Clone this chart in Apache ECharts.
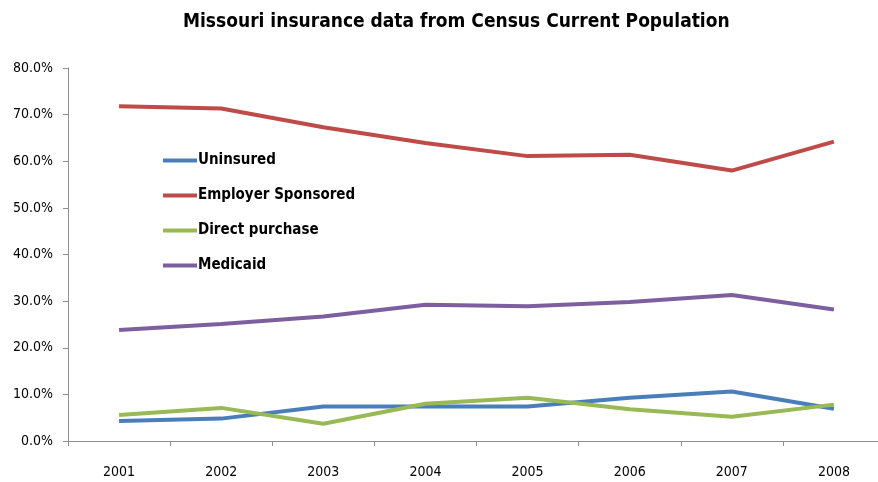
<!DOCTYPE html>
<html><head><meta charset="utf-8">
<script src="https://cdn.jsdelivr.net/npm/echarts@6/dist/echarts.min.js"></script>
<style>html,body{margin:0;padding:0;background:#fff;overflow:hidden}#c{width:885px;height:482px}</style>
</head><body><div id="c"></div>
<script>
const categories = ['2001','2002','2003','2004','2005','2006','2007','2008'];
const uninsured = [4.3, 4.8, 7.4, 7.4, 7.4, 9.3, 10.6, 6.9];
const employer = [71.8, 71.3, 67.3, 63.9, 61.1, 61.4, 58.0, 64.2];
const direct = [5.6, 7.1, 3.7, 8.0, 9.3, 6.8, 5.2, 7.8];
const medicaid = [23.8, 25.1, 26.7, 29.2, 28.9, 29.8, 31.3, 28.2];
const yTicks = [0,10,20,30,40,50,60,70,80];

const FONT = '"DejaVu Sans Condensed","Liberation Sans Narrow",sans-serif';
const chart = echarts.init(document.getElementById('c'));
function s(name, data, color){
  return {name, type:'line', data, symbol:'none', lineStyle:{width:4, color}, itemStyle:{color}, animation:false};
}
chart.setOption({
  animation:false,
  title:{text:'Missouri insurance data from Census Current Population', left:178, top:8,
    textStyle:{fontFamily:FONT, fontSize:19, fontWeight:'bold', color:'#000'}},
  legend:{orient:'vertical', left:158, top:148, itemWidth:34, itemHeight:4, itemGap:20, icon:'rect',
    textStyle:{fontFamily:FONT, fontSize:15, fontWeight:'bold', color:'#000', padding:[0,0,0,-4]},
    data:['Uninsured','Employer Sponsored','Direct purchase','Medicaid']},
  grid:{left:68, right:0, top:68, bottom:41, containLabel:false},
  xAxis:{type:'category', data:categories, boundaryGap:true,
    axisLine:{lineStyle:{color:'#8f8f8f', width:1}},
    axisTick:{show:true, length:5, interval:0, lineStyle:{color:'#8f8f8f'}},
    axisLabel:{fontFamily:FONT, fontSize:14, color:'#000', margin:24}},
  yAxis:{type:'value', min:0, max:80, interval:10,
    axisLine:{show:true, lineStyle:{color:'#8f8f8f', width:1}},
    axisTick:{show:true, length:5, lineStyle:{color:'#8f8f8f'}},
    splitLine:{show:false},
    axisLabel:{fontFamily:FONT, fontSize:14, color:'#000', margin:15,
      formatter:v=>v.toFixed(1)+'%'}},
  series:[s('Uninsured',uninsured,'#4a7ebb'), s('Employer Sponsored',employer,'#be4b48'),
          s('Direct purchase',direct,'#98b954'), s('Medicaid',medicaid,'#7d5fa0')]
});
</script></body></html>
